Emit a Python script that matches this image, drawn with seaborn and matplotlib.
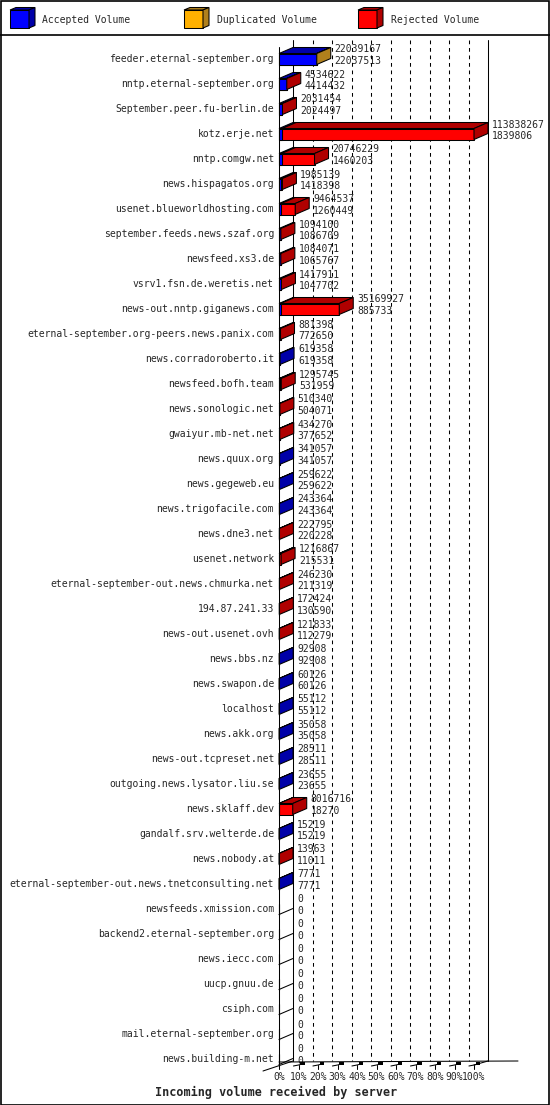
import numpy as np
import pandas as pd
import matplotlib
matplotlib.use("Agg")
import matplotlib.pyplot as plt
import seaborn as sns
from matplotlib.patches import Polygon, Rectangle
from matplotlib.lines import Line2D

# ---------------- data ----------------
servers = [
    "feeder.eternal-september.org", "nntp.eternal-september.org", "September.peer.fu-berlin.de",
    "kotz.erje.net", "nntp.comgw.net", "news.hispagatos.org", "usenet.blueworldhosting.com",
    "september.feeds.news.szaf.org", "newsfeed.xs3.de", "vsrv1.fsn.de.weretis.net",
    "news-out.nntp.giganews.com", "eternal-september.org-peers.news.panix.com",
    "news.corradoroberto.it", "newsfeed.bofh.team", "news.sonologic.net", "gwaiyur.mb-net.net",
    "news.quux.org", "news.gegeweb.eu", "news.trigofacile.com", "news.dne3.net", "usenet.network",
    "eternal-september-out.news.chmurka.net", "194.87.241.33", "news-out.usenet.ovh",
    "news.bbs.nz", "news.swapon.de", "localhost", "news.akk.org", "news-out.tcpreset.net",
    "outgoing.news.lysator.liu.se", "news.sklaff.dev", "gandalf.srv.welterde.de", "news.nobody.at",
    "eternal-september-out.news.tnetconsulting.net", "newsfeeds.xmission.com",
    "backend2.eternal-september.org", "news.iecc.com", "uucp.gnuu.de", "csiph.com",
    "mail.eternal-september.org", "news.building-m.net",
]
total_volume = [
    22039167, 4534622, 2031454, 113838267, 20746229, 1985139, 9464537, 1094100, 1084071,
    1417911, 35169927, 881398, 619358, 1295745, 510340, 434270, 341057, 259622, 243364,
    222795, 1216867, 246230, 172424, 121833, 92908, 60126, 55112, 35058, 28511, 23655,
    8016716, 15219, 13963, 7771, 0, 0, 0, 0, 0, 0, 0,
]
accepted_volume = [
    22037513, 4414432, 2024497, 1839806, 1460203, 1418398, 1260449, 1086709, 1065767,
    1047702, 885733, 772650, 619358, 531959, 504071, 377652, 341057, 259622, 243364,
    220228, 215531, 211319, 130590, 112279, 92908, 60126, 55112, 35058, 28511, 23655,
    18270, 15219, 11011, 7771, 0, 0, 0, 0, 0, 0, 0,
]
duplicated_volume = [1654] + [0] * 40
x_tick_labels = ["0%", "10%", "20%", "30%", "40%", "50%", "60%", "70%", "80%", "90%", "100%"]
legend_labels = ["Accepted Volume", "Duplicated Volume", "Rejected Volume"]
title = "Incoming volume received by server"

# ---------------- styling ----------------
sns.set_style("white")
plt.rcParams["font.family"] = ["DejaVu Sans Mono"]

FRONT = {"acc": "#0000FF", "dup": "#FFB000", "rej": "#FF0000"}
DARK = {"acc": "#0000A8", "dup": "#B0801C", "rej": "#B00000"}
LW = 0.75
FS = 7.0

W, H = 550, 1105
X0, PXP = 279.0, 1.95     # px of 0 %, px per percent
Y0, PITCH = 59.0, 25.0    # px of first row centre, row pitch
DXP, DYP = 14.0, 6.0      # 3D depth in px
DX, DY = DXP / PXP, DYP / PITCH
n = len(servers)

tot = np.array(total_volume, float)
acc = np.array(accepted_volume, float)
dup = np.array(duplicated_volume, float)
rej = tot - acc - dup
vmax = tot.max()
pct_tot = tot / vmax * 100
pct_acc = acc / vmax * 100
pct_ad = (acc + dup) / vmax * 100

df = pd.DataFrame({"server": servers, "tot": pct_tot, "ad": pct_ad, "acc": pct_acc})

fig = plt.figure(figsize=(W / 100, H / 100), dpi=100)
top_px = Y0 - 0.5 * PITCH
bot_px = Y0 + (n - 0.5) * PITCH
ax = fig.add_axes([X0 / W, 1 - bot_px / H, 100 * PXP / W, (bot_px - top_px) / H])

BH = 0.44
for col, key in [("tot", "rej"), ("ad", "dup"), ("acc", "acc")]:
    sns.barplot(data=df, x=col, y="server", orient="h", color=FRONT[key], saturation=1,
                width=BH, edgecolor="black", linewidth=LW, errorbar=None, ax=ax)
for p in ax.patches:
    p.set_zorder(3)
    p.set_clip_on(False)

ax.set_xlim(0, 100)
ax.set_ylim(n - 0.5, -0.5)
ax.axis("off")


def py2d(py):
    return (py - Y0) / PITCH


def px2d(px):
    return (px - X0) / PXP


# 3D faces
for i in range(n):
    yt = i - BH / 2
    yb = i + BH / 2
    segs = [(0, pct_acc[i], "acc", acc[i]), (pct_acc[i], pct_ad[i], "dup", dup[i]),
            (pct_ad[i], pct_tot[i], "rej", rej[i])]
    segs = [s for s in segs if s[3] > 0]
    if not segs:
        ax.add_line(Line2D([0, DX], [yb, yb - DY], color="black", lw=LW, zorder=4, clip_on=False))
        continue
    for a, b, key, _ in segs:
        ax.add_patch(Polygon([(a, yt), (b, yt), (b + DX, yt - DY), (a + DX, yt - DY)],
                             closed=True, facecolor=DARK[key], edgecolor="black", lw=LW,
                             zorder=4, clip_on=False))
    last = segs[-1][2]
    t = pct_tot[i]
    ax.add_patch(Polygon([(t, yb), (t, yt), (t + DX, yt - DY), (t + DX, yb - DY)],
                         closed=True, facecolor=DARK[last], edgecolor="black", lw=LW,
                         zorder=4, clip_on=False))

# value labels
for i in range(n):
    xt = pct_tot[i] + DX + 2.0
    ax.text(xt, i - 0.38, f"{total_volume[i]}", fontsize=FS, va="center", ha="left", zorder=1)
    ax.text(xt, i + 0.08, f"{accepted_volume[i]}", fontsize=FS, va="center", ha="left", zorder=1)
    ax.text(px2d(274), i, servers[i], fontsize=FS, va="center", ha="right", zorder=1)

# walls and grid
y_wall_top = py2d(40)
y_floor = py2d(1061)
for k in range(1, 10):
    ax.add_line(Line2D([k * 10 + DX] * 2, [y_wall_top, y_floor], color="black", lw=LW,
                       dashes=(3.6, 3.6), zorder=2, clip_on=False))
ax.add_line(Line2D([100 + DX] * 2, [y_wall_top, y_floor], color="black", lw=LW, zorder=2, clip_on=False))
ax.add_line(Line2D([DX] * 2, [y_wall_top, y_floor], color="black", lw=LW, zorder=2, clip_on=False))
ax.add_line(Line2D([0, 0], [py2d(47), py2d(1066)], color="black", lw=LW, zorder=5, clip_on=False))

# floor
ax.add_line(Line2D([0, px2d(518)], [py2d(1062), py2d(1061)], color="black", lw=LW, zorder=2, clip_on=False))
ax.add_line(Line2D([px2d(263), DX], [py2d(1071), py2d(1061)], color="black", lw=LW, zorder=2, clip_on=False))
ax.add_line(Line2D([100, 100 + DX], [py2d(1065), py2d(1061)], color="black", lw=LW, zorder=2, clip_on=False))
for k in range(11):
    xk = k * 10
    ax.add_line(Line2D([xk, xk], [py2d(1069), py2d(1065)], color="black", lw=LW, zorder=2, clip_on=False))
    if k > 0:
        ax.add_line(Line2D([xk - 2.6, xk, xk + 2.0], [py2d(1066), py2d(1065), py2d(1064)],
                           color="black", lw=LW, zorder=2, clip_on=False))
        ax.add_patch(Rectangle((xk + 1.0, py2d(1064.5)), 2.2, py2d(1061.5) - py2d(1064.5),
                               facecolor="black", edgecolor="none", zorder=2, clip_on=False))
    ax.text(xk, py2d(1077), x_tick_labels[k], fontsize=FS, ha="center", va="center")

# title
fig.text(276.5 / W, 1 - 1092 / H, title, fontsize=8.5, fontweight="bold", ha="center", va="center")

# legend
def fpoly(pts, **kw):
    fig.patches.append(Polygon([(x / W, 1 - y / H) for x, y in pts], closed=True,
                               transform=fig.transFigure, figure=fig, **kw))

for lx, tx, key, lab in [(10, 42, "acc", legend_labels[0]), (184, 217, "dup", legend_labels[1]),
                         (358, 391, "rej", legend_labels[2])]:
    x0, x1, yt_, yb_ = lx, lx + 19, 10, 28
    d, e = 6, 2.5
    fpoly([(x0, yb_), (x1, yb_), (x1, yt_), (x0, yt_)], facecolor=FRONT[key], edgecolor="black", lw=LW)
    fpoly([(x0, yt_), (x1, yt_), (x1 + d, yt_ - e), (x0 + d, yt_ - e)], facecolor=DARK[key], edgecolor="black", lw=LW)
    fpoly([(x1, yb_), (x1, yt_), (x1 + d, yt_ - e), (x1 + d, yb_ - e)], facecolor=DARK[key], edgecolor="black", lw=LW)
    fig.text(tx / W, 1 - 20 / H, lab, fontsize=FS, ha="left", va="center")

fig.lines.append(Line2D([0, 1], [1 - 35 / H] * 2, transform=fig.transFigure, color="black", lw=1.2))
fig.patches.append(Rectangle((0.5 / W, 0.5 / H), 1 - 1.5 / W, 1 - 1.5 / H, transform=fig.transFigure,
                             fill=False, edgecolor="black", lw=1.2, figure=fig))

fig.savefig("out.png", dpi=100, facecolor="white")
